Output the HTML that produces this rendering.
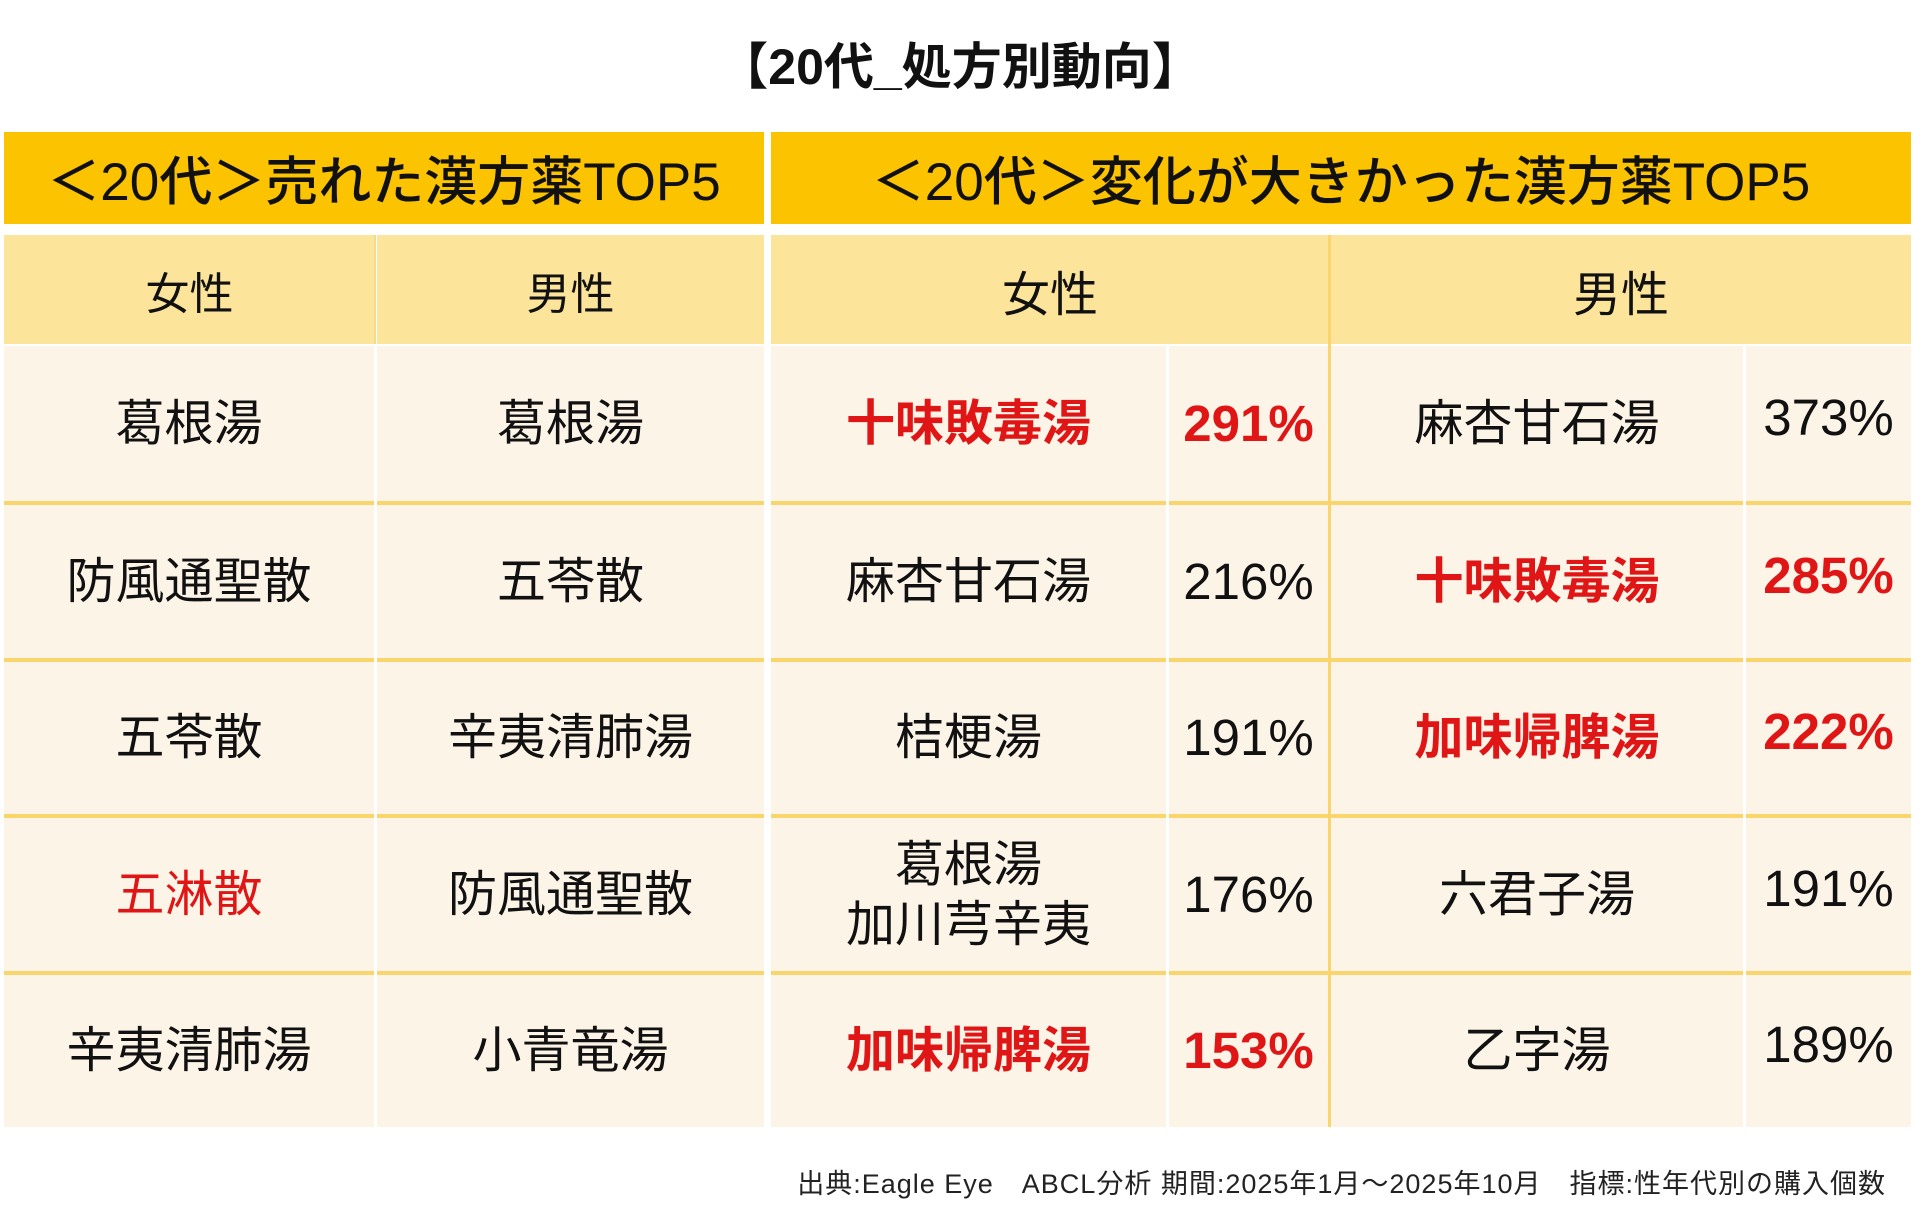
<!DOCTYPE html>
<html><head><meta charset="utf-8"><style>
body{margin:0;width:1920px;height:1208px;background:#fff;position:relative;overflow:hidden;font-family:"Liberation Sans","Noto Sans CJK JP",sans-serif;color:#111}
.a{position:absolute;display:flex;align-items:center;justify-content:center;text-align:center;box-sizing:border-box}
.h{background:#FCC300;font-size:53px;font-weight:500}
.s{background:#FDE49B;font-size:44px}
.c{background:#FDF4E8;font-size:49px;line-height:60px}
.p{font-size:51px}
.r{color:#E01515;font-weight:bold}
.hl{position:absolute;background:#F9D56C}
.vw{position:absolute;background:#fff}
</style></head><body>
<div class="a" style="left:0;top:30px;width:1920px;height:66px;font-size:50px;font-weight:bold;">【20代_処方別動向】</div>

<div class="a h" style="left:4px;top:132px;width:760px;height:92px;">＜20代＞売れた漢方薬TOP5</div>
<div class="a h" style="left:771px;top:132px;width:1140px;height:92px;">＜20代＞変化が大きかった漢方薬TOP5</div>

<div class="a s" style="left:4px;top:235px;width:371px;height:109px;">女性</div>
<div class="a s" style="left:377px;top:235px;width:387px;height:109px;">男性</div>
<div class="a s" style="left:771px;top:235px;width:558px;height:109px;font-size:48px;">女性</div>
<div class="a s" style="left:1331px;top:235px;width:580px;height:109px;font-size:48px;">男性</div>

<div class="a c" style="left:4px;top:346px;width:760px;height:781px;"></div>
<div class="a c" style="left:771px;top:346px;width:1140px;height:781px;"></div>

<div class="hl" style="left:4px;top:501px;width:760px;height:4px"></div>
<div class="hl" style="left:4px;top:658px;width:760px;height:4px"></div>
<div class="hl" style="left:4px;top:814px;width:760px;height:4px"></div>
<div class="hl" style="left:4px;top:971px;width:760px;height:4px"></div>
<div class="hl" style="left:771px;top:501px;width:1140px;height:4px"></div>
<div class="hl" style="left:771px;top:658px;width:1140px;height:4px"></div>
<div class="hl" style="left:771px;top:814px;width:1140px;height:4px"></div>
<div class="hl" style="left:771px;top:971px;width:1140px;height:4px"></div>
<div class="vw" style="left:374px;top:346px;width:3px;height:781px"></div>
<div class="hl" style="left:374px;top:235px;width:2px;height:109px;background:#F6D98A"></div>
<div class="vw" style="left:1166px;top:346px;width:3px;height:781px"></div>
<div class="vw" style="left:1743px;top:346px;width:3px;height:781px"></div>
<div class="hl" style="left:1328px;top:235px;width:3px;height:892px"></div>

<div class="a c" style="left:4px;top:346px;width:370px;height:155px;background:none">葛根湯</div>
<div class="a c" style="left:377px;top:346px;width:387px;height:155px;background:none">葛根湯</div>
<div class="a c" style="left:4px;top:505px;width:370px;height:153px;background:none">防風通聖散</div>
<div class="a c" style="left:377px;top:505px;width:387px;height:153px;background:none">五苓散</div>
<div class="a c" style="left:4px;top:662px;width:370px;height:152px;background:none">五苓散</div>
<div class="a c" style="left:377px;top:662px;width:387px;height:152px;background:none">辛夷清肺湯</div>
<div class="a c" style="left:4px;top:818px;width:370px;height:153px;background:none;color:#E01515">五淋散</div>
<div class="a c" style="left:377px;top:818px;width:387px;height:153px;background:none">防風通聖散</div>
<div class="a c" style="left:4px;top:975px;width:370px;height:152px;background:none">辛夷清肺湯</div>
<div class="a c" style="left:377px;top:975px;width:387px;height:152px;background:none">小青竜湯</div>

<div class="a c r" style="left:771px;top:346px;width:395px;height:155px;background:none">十味敗毒湯</div>
<div class="a c r p" style="left:1169px;top:346px;width:159px;height:155px;background:none">291%</div>
<div class="a c" style="left:771px;top:505px;width:395px;height:153px;background:none">麻杏甘石湯</div>
<div class="a c p" style="left:1169px;top:505px;width:159px;height:153px;background:none">216%</div>
<div class="a c" style="left:771px;top:662px;width:395px;height:152px;background:none">桔梗湯</div>
<div class="a c p" style="left:1169px;top:662px;width:159px;height:152px;background:none">191%</div>
<div class="a c" style="left:771px;top:818px;width:395px;height:153px;background:none">葛根湯<br>加川芎辛夷</div>
<div class="a c p" style="left:1169px;top:818px;width:159px;height:153px;background:none">176%</div>
<div class="a c r" style="left:771px;top:975px;width:395px;height:152px;background:none">加味帰脾湯</div>
<div class="a c r p" style="left:1169px;top:975px;width:159px;height:152px;background:none">153%</div>

<div class="a c" style="left:1331px;top:346px;width:412px;height:155px;background:none">麻杏甘石湯</div>
<div class="a c p" style="left:1746px;top:340px;width:165px;height:155px;background:none">373%</div>
<div class="a c r" style="left:1331px;top:505px;width:412px;height:153px;background:none">十味敗毒湯</div>
<div class="a c r p" style="left:1746px;top:499px;width:165px;height:153px;background:none">285%</div>
<div class="a c r" style="left:1331px;top:662px;width:412px;height:152px;background:none">加味帰脾湯</div>
<div class="a c r p" style="left:1746px;top:656px;width:165px;height:152px;background:none">222%</div>
<div class="a c" style="left:1331px;top:818px;width:412px;height:153px;background:none">六君子湯</div>
<div class="a c p" style="left:1746px;top:812px;width:165px;height:153px;background:none">191%</div>
<div class="a c" style="left:1331px;top:975px;width:412px;height:152px;background:none">乙字湯</div>
<div class="a c p" style="left:1746px;top:969px;width:165px;height:152px;background:none">189%</div>

<div style="position:absolute;right:34px;top:1162px;font-size:27px;color:#222;white-space:nowrap;letter-spacing:1px">出典:Eagle Eye　ABCL分析 期間:2025年1月～2025年10月　指標:性年代別の購入個数</div>
</body></html>
